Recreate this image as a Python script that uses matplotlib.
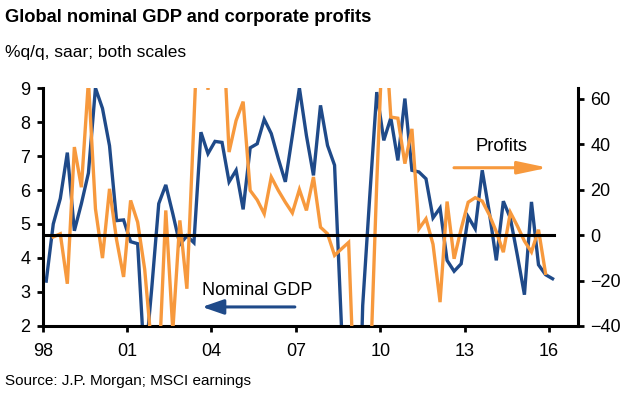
import numpy as np
import matplotlib
matplotlib.use("Agg")
import matplotlib.pyplot as plt

# quarterly data, 1998Q1 onwards
gdp = [3.32, 5.0, 5.75, 7.1, 4.8, 5.6, 6.5, 9.0, 8.4, 7.3,
       5.1, 5.12, 4.48, 4.42, 0.8, 3.1, 5.6, 6.15, 5.3, 4.4,
       4.65, 4.45, 7.7, 7.07, 7.43, 7.4, 6.24, 6.58, 5.43, 7.24,
       7.36, 8.08, 7.66, 6.92, 6.24, 7.6, 9.0, 7.6, 6.43, 8.49,
       7.31, 6.73, 1.9, -3.0, -5.0, 2.6, 5.8, 8.88, 7.46, 8.12,
       6.87, 8.69, 6.58, 6.53, 6.33, 5.18, 5.47, 3.93, 3.61, 3.83,
       5.21, 4.86, 6.58, 5.35, 3.93, 5.67, 5.17, 4.07, 2.92, 5.65,
       3.8, 3.51, 3.39]

# profits start 1998Q2
profits = [-0.8, 0.6, -21.4, 38.8, 21.1, 68.0, 11.6, -10.1, 20.4,
           -2.0, -18.4, 15.3, 5.7, -15.0, -50.0, -60.0, 10.9, -42.0, 6.5,
           -23.6, 50.0, 125.0, 64.0, 110.0, 100.0, 36.6, 50.5, 58.8, 19.7,
           15.5, 9.4, 25.6, 19.7, 14.5, 9.8, 20.1, 10.9, 25.6, 3.5,
           0.6, -8.9, -6.0, -3.2, -85.0, -90.0, -67.0, 23.0, 100.0, 52.0,
           51.5, 31.5, 46.8, 2.8, 7.2, -4.0, -29.5, 14.8, -10.4, 2.8,
           14.5, 16.5, 15.0, 9.0, 1.5, -7.5, 10.0, 4.0, -2.6, -7.4,
           2.4, -16.8]

year_ticks = [1998, 2001, 2004, 2007, 2010, 2013, 2016]
year_labels = ['98', '01', '04', '07', '10', '13', '16']
left_ticks = [2, 3, 4, 5, 6, 7, 8, 9]
right_ticks = [-40, -20, 0, 20, 40, 60]

BLUE = '#1f4a89'
ORANGE = '#f7993d'

plt.rcParams['font.family'] = ['Liberation Sans', 'DejaVu Sans']

x_gdp = 1998.125 + 0.25 * np.arange(len(gdp))
x_prof = 1998.125 + 0.25 * (np.arange(len(profits)) + 1)

fig = plt.figure(figsize=(6.3, 3.99), dpi=100)
ax = fig.add_axes([0.0678, 0.183, 0.8497, 0.5964])
ax2 = ax.twinx()

ax.plot(x_gdp, gdp, color=BLUE, lw=2.4, solid_joinstyle='miter')
ax2.plot(x_prof, profits, color=ORANGE, lw=2.4, solid_joinstyle='miter')
ax2.axhline(0, xmin=0, xmax=0.955, color='black', lw=2.2, zorder=5)

ax.set_xlim(1998, 2017.03)
ax.set_ylim(2, 9)
ax2.set_ylim(-40, 64.8)

ax.set_xticks(year_ticks)
ax.set_xticklabels(year_labels)
ax.set_yticks(left_ticks)
ax2.set_yticks(right_ticks)

for a in (ax, ax2):
    a.spines['top'].set_visible(False)
    for s in ('left', 'right', 'bottom'):
        a.spines[s].set_linewidth(2.2)
    a.tick_params(width=2, length=4, labelsize=13, direction='out')
ax.spines['right'].set_visible(False)
ax2.spines['left'].set_visible(False)
ax2.spines['bottom'].set_visible(False)
ax.tick_params(axis='x', pad=8)
ax.tick_params(axis='y', pad=5)
ax2.tick_params(axis='y', pad=5)

# series labels with arrows
ax.text(0.2977, 0.151, 'Nominal GDP', transform=ax.transAxes,
        fontsize=13, va='center', ha='left')
ax.annotate('', xy=(0.2977, 0.08), xytext=(0.471, 0.08),
            xycoords='axes fraction', textcoords='axes fraction',
            arrowprops=dict(arrowstyle='-|>,head_length=1.3,head_width=0.45',
                            color=BLUE, lw=2.2, mutation_scale=10,
                            shrinkA=0, shrinkB=0))
ax2.text(0.8093, 0.756, 'Profits', transform=ax2.transAxes,
         fontsize=13.2, va='center', ha='left')
ax2.annotate('', xy=(0.9439, 0.665), xytext=(0.7683, 0.665),
             xycoords='axes fraction', textcoords='axes fraction',
             arrowprops=dict(arrowstyle='-|>,head_length=1.8,head_width=0.38',
                             color=ORANGE, lw=2.2, mutation_scale=10,
                             shrinkA=0, shrinkB=0))

fig.text(0.008, 0.955, 'Global nominal GDP and corporate profits',
         fontsize=13.2, fontweight='bold', va='center', ha='left')
fig.text(0.008, 0.868, '%q/q, saar; both scales',
         fontsize=12.5, va='center', ha='left')
fig.text(0.008, 0.045, 'Source: J.P. Morgan; MSCI earnings',
         fontsize=11, va='center', ha='left')

fig.savefig('out.png', dpi=100)
